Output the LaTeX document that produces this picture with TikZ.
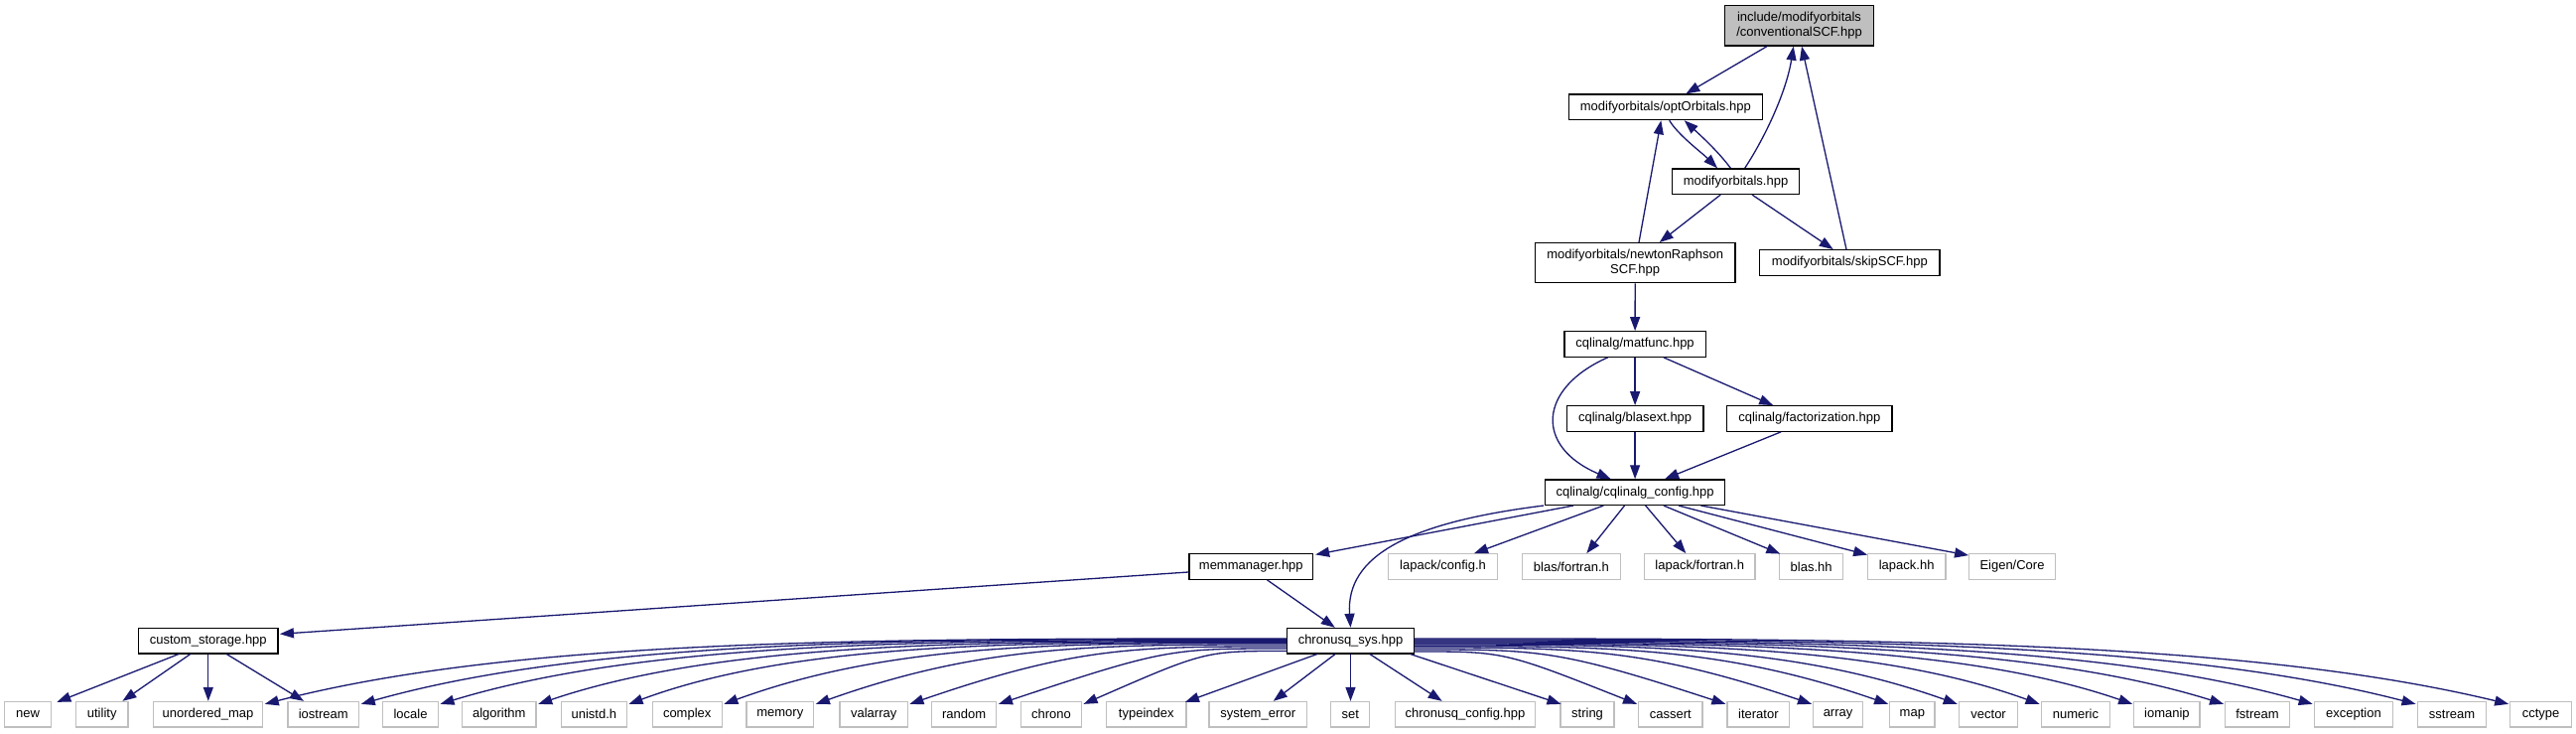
\documentclass[tikz,border=0pt]{standalone}
\usepackage{fontspec}
\setmainfont{Liberation Sans}
\usetikzlibrary{arrows.meta,calc}
\definecolor{edgeblue}{RGB}{25,25,112}
\definecolor{sysgray}{RGB}{191,191,191}
\begin{document}
\begin{tikzpicture}[x=1pt,y=-1pt,
  every node/.style={font=\fontsize{13}{15}\selectfont},
  box/.style={draw=black, line width=1.3pt, inner sep=0pt, minimum height=25.5pt, align=center, fill=white},
  sysbox/.style={draw=sysgray, line width=1.3pt, inner sep=0pt, minimum height=25.5pt, fill=white},
  edge/.style={draw=edgeblue, line width=1.3pt, -{Triangle[length=14pt,width=10pt]}, color=edgeblue}]
\useasboundingbox (0,0) rectangle (2595,739);
\fill[white] (0,0) rectangle (2595,739);
% upper nodes
\node[box, fill=sysgray, minimum width=149.6pt, minimum height=40.3pt] (root) at (1812.5,25.85) {include/modifyorbitals\\/conventionalSCF.hpp};
\node[box, minimum width=195pt] (opt) at (1677.8,107.85) {modifyorbitals/optOrbitals.hpp};
\node[box, minimum width=128.4pt] (mo) at (1748.5,182.65) {modifyorbitals.hpp};
\node[box, minimum width=201.7pt, minimum height=40pt] (nr) at (1647.15,264.7) {modifyorbitals/newtonRaphson\\SCF.hpp};
\node[box, minimum width=181.3pt] (skip) at (1863.35,264.5) {modifyorbitals/skipSCF.hpp};
\node[box, minimum width=142.4pt] (matfunc) at (1647.1,346.5) {cqlinalg/matfunc.hpp};
\node[box, minimum width=137.5pt] (blasext) at (1647.1,421.5) {cqlinalg/blasext.hpp};
\node[box, minimum width=166.6pt] (fact) at (1822.8,421.5) {cqlinalg/factorization.hpp};
\node[box, minimum width=181.2pt] (cfg) at (1647.1,495.65) {cqlinalg/cqlinalg\_config.hpp};
\node[box, minimum width=124.8pt] (mem) at (1260.3,570.5) {memmanager.hpp};
\node[sysbox, minimum width=110.3pt] (lapackcfg) at (1453.55,570.5) {lapack/config.h};
\node[sysbox, minimum width=98.8pt] (blasfort) at (1582.9,570.5) {blas/fortran.h};
\node[sysbox, minimum width=111.5pt] (lapackfort) at (1712.25,570.5) {lapack/fortran.h};
\node[sysbox, minimum width=63.6pt] (blashh) at (1824.6,570.5) {blas.hh};
\node[sysbox, minimum width=78.7pt] (lapackhh) at (1920.65,570.5) {lapack.hh};
\node[sysbox, minimum width=86.6pt] (eigen) at (2027,570.5) {Eigen/Core};
\node[box, minimum width=140.6pt] (custom) at (209.8,645.15) {custom\_storage.hpp};
\node[box, minimum width=127.6pt] (cs) at (1360.5,645.2) {chronusq\_sys.hpp};
% bottom row
\def\by{719.25}
\node[sysbox, minimum width=47.1pt] (new) at (28.15,\by) {new};
\node[sysbox, minimum width=52.8pt] (utility) at (102.7,\by) {utility};
\node[sysbox, minimum width=110.2pt] (umap) at (209.5,\by) {unordered\_map};
\node[sysbox, minimum width=71.7pt] (iostream) at (325.75,\by) {iostream};
\node[sysbox, minimum width=55.7pt] (locale) at (413.55,\by) {locale};
\node[sysbox, minimum width=74.6pt] (algorithm) at (502.8,\by) {algorithm};
\node[sysbox, minimum width=66pt] (unistd) at (598.4,\by) {unistd.h};
\node[sysbox, minimum width=70pt] (complex) at (692.2,\by) {complex};
\node[sysbox, minimum width=67.8pt] (memory) at (785.8,\by) {memory};
\node[sysbox, minimum width=68.2pt] (valarray) at (880.2,\by) {valarray};
\node[sysbox, minimum width=65.4pt] (random) at (971.1,\by) {random};
\node[sysbox, minimum width=60.9pt] (chrono) at (1058.95,\by) {chrono};
\node[sysbox, minimum width=80.4pt] (typeindex) at (1154.8,\by) {typeindex};
\node[sysbox, minimum width=98.8pt] (syserr) at (1267.3,\by) {system\_error};
\node[sysbox, minimum width=39pt] (set) at (1360.3,\by) {set};
\node[sysbox, minimum width=140.7pt] (cqconfig) at (1475.95,\by) {chronusq\_config.hpp};
\node[sysbox, minimum width=53.9pt] (string) at (1599.05,\by) {string};
\node[sysbox, minimum width=64.3pt] (cassert) at (1682.85,\by) {cassert};
\node[sysbox, minimum width=62.7pt] (iterator) at (1771.35,\by) {iterator};
\node[sysbox, minimum width=49.7pt] (array) at (1851.55,\by) {array};
\node[sysbox, minimum width=45.1pt] (map) at (1926.35,\by) {map};
\node[sysbox, minimum width=59.4pt] (vector) at (2003.1,\by) {vector};
\node[sysbox, minimum width=69.6pt] (numeric) at (2091,\by) {numeric};
\node[sysbox, minimum width=66.2pt] (iomanip) at (2182.9,\by) {iomanip};
\node[sysbox, minimum width=64.5pt] (fstream) at (2273.95,\by) {fstream};
\node[sysbox, minimum width=79.3pt] (exception) at (2370.95,\by) {exception};
\node[sysbox, minimum width=69.6pt] (sstream) at (2470,\by) {sstream};
\node[sysbox, minimum width=61.6pt] (cctype) at (2559.6,\by) {cctype};
% upper edges
\draw[edge] ($(root.south)+(-32.5,0)$) -- ($(opt.north)+(20.5,0)$);
\draw[edge] ($(mo.north)+(9.2,0)$) .. controls +(22.3,-34) and +(-6.7,43.3) .. ($(root.south)+(-5.8,0)$);
\draw[edge] ($(skip.north)+(-3.35,0)$) -- ($(root.south)+(2.5,0)$);
\draw[edge] ($(opt.south)+(3.9,0)$) .. controls +(8.3,14.3) and +(-15,-15) .. ($(mo.north)+(-18.5,0)$);
\draw[edge] ($(mo.north)+(-5.2,0)$) .. controls +(-13.3,-18) and +(13.3,12.3) .. ($(opt.south)+(18.9,0)$);
\draw[edge] ($(mo.south)+(-15.2,0)$) -- ($(nr.north)+(24.55,0)$);
\draw[edge] ($(mo.south)+(16.5,0)$) -- ($(skip.north)+(-16.65,0)$);
\draw[edge] ($(nr.north)+(3.85,0)$) -- ($(opt.south)+(-4.5,0)$);
\draw[edge] (nr.south) -- (matfunc.north);
\draw[edge] (matfunc.south) -- (blasext.north);
\draw[edge] ($(matfunc.south)+(28.8,0)$) -- ($(fact.north)+(-36.6,0)$);
\draw[edge] ($(matfunc.south)+(-27.5,0)$) .. controls +(-69.6,30.7) and +(-77.6,-33) .. ($(cfg.north)+(-24.5,0)$);
\draw[edge] (blasext.south) -- (cfg.north);
\draw[edge] ($(fact.south)+(-28.8,0)$) -- ($(cfg.north)+(30,0)$);
% cqlinalg_config edges
\draw[edge] ($(cfg.south)+(-62.1,0)$) -- ($(mem.north east)+(1.8,1.3)$);
\draw[edge] ($(cfg.south west)+(-1,0)$) .. controls +(-136,17) and +(-5,-72) .. (cs.north);
\draw[edge] ($(cfg.south)+(-31.8,0)$) -- ($(lapackcfg.north)+(31.45,0)$);
\draw[edge] ($(cfg.south)+(-10.6,0)$) -- ($(blasfort.north)+(15.4,0)$);
\draw[edge] ($(cfg.south)+(10.6,0)$) -- ($(lapackfort.north)+(-13.95,0)$);
\draw[edge] ($(cfg.south)+(28.8,0)$) -- ($(blashh.north west)+(1.2,0.5)$);
\draw[edge] ($(cfg.south)+(43.9,0)$) -- ($(lapackhh.north west)+(0.5,1.5)$);
\draw[edge] ($(cfg.south)+(66.4,0)$) -- ($(eigen.north west)+(0,2)$);
% memmanager edges
\draw[edge] ($(mem.west)+(0,5.5)$) -- ($(custom.east)+(1.2,-6.85)$);
\draw[edge] ($(mem.south)+(16.2,0)$) -- ($(cs.north)+(-15.7,0)$);
% custom_storage edges
\draw[edge] ($(custom.south)+(-29.8,0)$) -- ($(new.north east)+(5,1)$);
\draw[edge] ($(custom.south)+(-18.1,0)$) -- ($(utility.north)+(20.7,0)$);
\draw[edge] (custom.south) -- (custom.south |- umap.north);
\draw[edge] ($(custom.south)+(18.5,0)$) -- ($(iostream.north west)+(16.8,0)$);
% chronusq_sys edges, left fan
\draw[edge] ($(cs.west)+(0,-2.2)$) .. controls +(-412,0) and +(257.7,-66.5) .. ($(umap.north east)+(1.5,3)$);
\draw[edge] ($(cs.west)+(0,-1.7)$) .. controls +(-373.4,0) and +(233.4,-66) .. ($(iostream.north east)+(1.5,3)$);
\draw[edge] ($(cs.west)+(0,-0.7)$) .. controls +(-341.5,0) and +(213.5,-65) .. ($(locale.north east)+(1.5,3)$);
\draw[edge] ($(cs.west)+(0,0.3)$) .. controls +(-302,0) and +(188.8,-64) .. ($(algorithm.north east)+(1.5,3)$);
\draw[edge] ($(cs.west)+(0,1.3)$) .. controls +(-265.5,0) and +(170,-63) .. ($(unistd.north east)+(1.5,3)$);
\draw[edge] ($(cs.west)+(0,2.3)$) .. controls +(-227.2,0) and +(170,-62) .. ($(complex.north east)+(1.5,3)$);
\draw[edge] ($(cs.west)+(0,3.8)$) .. controls +(-190.2,0) and +(170,-60.5) .. ($(memory.north east)+(1.5,3)$);
\draw[edge] ($(cs.west)+(0,5.8)$) .. controls +(-152.4,0) and +(170,-58.5) .. ($(valarray.north east)+(1.5,3)$);
\draw[edge] ($(cs.west)+(0,7.8)$) .. controls +(-116.6,0) and +(170,-56.5) .. ($(random.north east)+(1.5,3)$);
\draw[edge] ($(cs.west)+(0,10.3)$) .. controls +(-82.4,0) and +(123.6,-54) .. ($(chrono.north east)+(1.5,3)$);
% middle
\draw[edge] ($(cs.south)+(-33.8,0)$) -- ($(typeindex.north east)+(-1.7,1)$);
\draw[edge] ($(cs.south)+(-15.5,0)$) -- ($(syserr.north)+(15.4,0)$);
\draw[edge] (cs.south) -- (cs.south |- set.north);
\draw[edge] ($(cs.south)+(19.5,0)$) -- ($(cqconfig.north)+(-23.3,0)$);
\draw[edge] ($(cs.south east)+(-4,0)$) -- ($(string.north west)+(1,3)$);
% right fan
\draw[edge] ($(cs.east)+(0,10.8)$) .. controls +(90.2,0) and +(-135.2,-53.5) .. ($(cassert.north west)+(-1,3)$);
\draw[edge] ($(cs.east)+(0,8.8)$) .. controls +(125.9,0) and +(-170,-55.5) .. ($(iterator.north west)+(-1,3)$);
\draw[edge] ($(cs.east)+(0,6.8)$) .. controls +(160.6,0) and +(-170,-57.5) .. ($(array.north west)+(-1,3)$);
\draw[edge] ($(cs.east)+(0,5.3)$) .. controls +(191.4,0) and +(-170,-59) .. ($(map.north west)+(-1,3)$);
\draw[edge] ($(cs.east)+(0,3.8)$) .. controls +(219.2,0) and +(-170,-60.5) .. ($(vector.north west)+(-1,3)$);
\draw[edge] ($(cs.east)+(0,2.8)$) .. controls +(252.4,0) and +(-170,-61.5) .. ($(numeric.north west)+(-1,3)$);
\draw[edge] ($(cs.east)+(0,1.8)$) .. controls +(289.8,0) and +(-181.1,-62.5) .. ($(iomanip.north west)+(-1,3)$);
\draw[edge] ($(cs.east)+(0,0.8)$) .. controls +(326.6,0) and +(-204.1,-63.5) .. ($(fstream.north west)+(-1,3)$);
\draw[edge] ($(cs.east)+(0,-0.2)$) .. controls +(362.4,0) and +(-226.5,-64.5) .. ($(exception.north west)+(-1,3)$);
\draw[edge] ($(cs.east)+(0,-1.2)$) .. controls +(404,0) and +(-252.5,-65.5) .. ($(sstream.north west)+(-1,3)$);
\draw[edge] ($(cs.east)+(0,-2.2)$) .. controls +(441.4,0) and +(-275.9,-66.5) .. ($(cctype.north west)+(-1,3)$);
\end{tikzpicture}
\end{document}
